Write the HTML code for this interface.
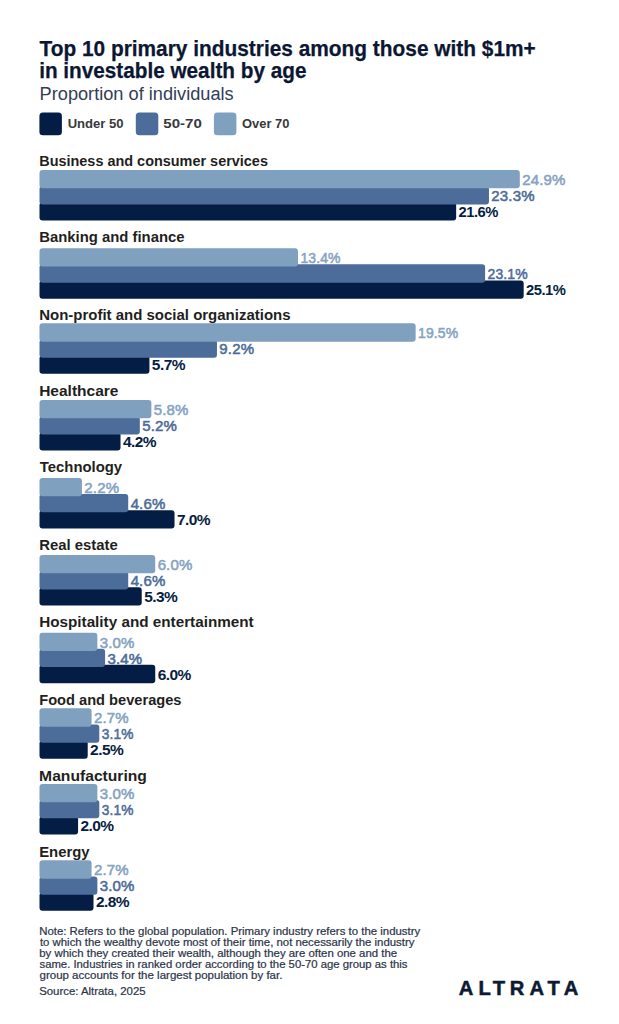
<!DOCTYPE html>
<html><head><meta charset="utf-8"><title>Top 10 primary industries among those with $1m+ in investable wealth by age</title>
<style>
html,body{margin:0;padding:0;background:#fff;}
body{width:619px;height:1024px;overflow:hidden;}
svg{display:block;}
text{font-family:"Liberation Sans", Arial, sans-serif;}
.t{font-weight:700;fill:#0b1733;font-size:22px;stroke:#0b1733;stroke-width:0.25px;}
.sub{fill:#323d57;font-size:17.6px;}
.lg{font-weight:700;fill:#38383c;font-size:12.5px;}
.cat{font-weight:700;fill:#1f1f21;font-size:14.8px;}
.pl{font-size:15px;fill:#85a3c3;letter-spacing:0.15px;stroke:#85a3c3;stroke-width:0.55px;}
.pm{font-size:15px;fill:#4c6c9a;letter-spacing:0.15px;stroke:#4c6c9a;stroke-width:0.55px;}
.pd{font-size:15.5px;fill:#061d42;font-weight:700;letter-spacing:-0.55px;}
.note{font-size:10.3px;fill:#2b3448;stroke:#2b3448;stroke-width:0.2px;}
.logo{font-weight:700;fill:#0d1a33;font-size:20.2px;stroke:#0d1a33;stroke-width:0.5px;}
</style></head><body>
<svg width="619" height="1024" viewBox="0 0 619 1024">
<rect width="619" height="1024" fill="#fff"/>
<text class="t" x="39.46" y="55.90" textLength="496.28" lengthAdjust="spacingAndGlyphs">Top 10 primary industries among those with $1m+</text>
<text class="t" x="39.14" y="78.40" textLength="267.30" lengthAdjust="spacingAndGlyphs">in investable wealth by age</text>
<text class="sub" x="39.58" y="99.70" textLength="194.11" lengthAdjust="spacingAndGlyphs">Proportion of individuals</text>
<rect x="39.4" y="112.5" width="22.5" height="22.7" rx="3.5" fill="#041d44"/>
<text class="lg" x="67.66" y="128.10" textLength="55.96" lengthAdjust="spacingAndGlyphs">Under 50</text>
<rect x="135.8" y="112.5" width="22.5" height="22.7" rx="3.5" fill="#4c6c9a"/>
<text class="lg" x="163.34" y="128.10" textLength="38.48" lengthAdjust="spacingAndGlyphs">50-70</text>
<rect x="213.9" y="112.5" width="22.5" height="22.7" rx="3.5" fill="#80a0bf"/>
<text class="lg" x="241.96" y="128.10" textLength="47.49" lengthAdjust="spacingAndGlyphs">Over 70</text>
<text class="cat" x="39.22" y="165.60" textLength="228.71" lengthAdjust="spacingAndGlyphs">Business and consumer services</text>
<rect x="39.5" y="202.20" width="416.66" height="18.3" rx="3" fill="#041d44"/>
<rect x="39.5" y="186.10" width="449.46" height="18.3" rx="3" fill="#4c6c9a"/>
<rect x="39.5" y="170.00" width="480.32" height="18.3" rx="3" fill="#80a0bf"/>
<text class="pl" x="522.22" y="184.90">24.9%</text>
<text class="pm" x="491.36" y="201.00">23.3%</text>
<text class="pd" x="458.56" y="217.10" textLength="39.20" lengthAdjust="spacingAndGlyphs">21.6%</text>
<text class="cat" x="39.19" y="241.60" textLength="145.33" lengthAdjust="spacingAndGlyphs">Banking and finance</text>
<rect x="39.5" y="280.45" width="484.18" height="18.3" rx="3" fill="#041d44"/>
<rect x="39.5" y="264.35" width="445.60" height="18.3" rx="3" fill="#4c6c9a"/>
<rect x="39.5" y="248.25" width="258.49" height="18.3" rx="3" fill="#80a0bf"/>
<text class="pl" x="300.39" y="263.15" textLength="40.28" lengthAdjust="spacingAndGlyphs">13.4%</text>
<text class="pm" x="487.50" y="279.25" textLength="40.28" lengthAdjust="spacingAndGlyphs">23.1%</text>
<text class="pd" x="526.08" y="295.35" textLength="39.20" lengthAdjust="spacingAndGlyphs">25.1%</text>
<text class="cat" x="39.18" y="319.60" textLength="251.35" lengthAdjust="spacingAndGlyphs">Non-profit and social organizations</text>
<rect x="39.5" y="355.55" width="109.95" height="18.3" rx="3" fill="#041d44"/>
<rect x="39.5" y="339.45" width="177.47" height="18.3" rx="3" fill="#4c6c9a"/>
<rect x="39.5" y="323.35" width="376.15" height="18.3" rx="3" fill="#80a0bf"/>
<text class="pl" x="418.05" y="338.25" textLength="40.28" lengthAdjust="spacingAndGlyphs">19.5%</text>
<text class="pm" x="219.37" y="354.35">9.2%</text>
<text class="pd" x="151.85" y="370.45">5.7%</text>
<text class="cat" x="39.15" y="395.60" textLength="79.35" lengthAdjust="spacingAndGlyphs">Healthcare</text>
<rect x="39.5" y="432.25" width="81.02" height="18.3" rx="3" fill="#041d44"/>
<rect x="39.5" y="416.15" width="100.31" height="18.3" rx="3" fill="#4c6c9a"/>
<rect x="39.5" y="400.05" width="111.88" height="18.3" rx="3" fill="#80a0bf"/>
<text class="pl" x="153.78" y="414.95">5.8%</text>
<text class="pm" x="142.21" y="431.05">5.2%</text>
<text class="pd" x="122.92" y="447.15">4.2%</text>
<text class="cat" x="39.83" y="472.00" textLength="82.24" lengthAdjust="spacingAndGlyphs">Technology</text>
<rect x="39.5" y="510.15" width="135.03" height="18.3" rx="3" fill="#041d44"/>
<rect x="39.5" y="494.05" width="88.73" height="18.3" rx="3" fill="#4c6c9a"/>
<rect x="39.5" y="477.95" width="42.44" height="18.3" rx="3" fill="#80a0bf"/>
<text class="pl" x="84.34" y="492.85">2.2%</text>
<text class="pm" x="130.63" y="508.95">4.6%</text>
<text class="pd" x="176.93" y="525.05">7.0%</text>
<text class="cat" x="39.19" y="549.50" textLength="78.52" lengthAdjust="spacingAndGlyphs">Real estate</text>
<rect x="39.5" y="587.25" width="102.24" height="18.3" rx="3" fill="#041d44"/>
<rect x="39.5" y="571.15" width="88.73" height="18.3" rx="3" fill="#4c6c9a"/>
<rect x="39.5" y="555.05" width="115.74" height="18.3" rx="3" fill="#80a0bf"/>
<text class="pl" x="157.64" y="569.95">6.0%</text>
<text class="pm" x="130.63" y="586.05">4.6%</text>
<text class="pd" x="144.14" y="602.15">5.3%</text>
<text class="cat" x="39.17" y="626.50" textLength="214.53" lengthAdjust="spacingAndGlyphs">Hospitality and entertainment</text>
<rect x="39.5" y="664.85" width="115.74" height="18.3" rx="3" fill="#041d44"/>
<rect x="39.5" y="648.75" width="65.59" height="18.3" rx="3" fill="#4c6c9a"/>
<rect x="39.5" y="632.65" width="57.87" height="18.3" rx="3" fill="#80a0bf"/>
<text class="pl" x="99.77" y="647.55">3.0%</text>
<text class="pm" x="107.49" y="663.65">3.4%</text>
<text class="pd" x="157.64" y="679.75">6.0%</text>
<text class="cat" x="39.21" y="704.60" textLength="142.29" lengthAdjust="spacingAndGlyphs">Food and beverages</text>
<rect x="39.5" y="740.55" width="48.22" height="18.3" rx="3" fill="#041d44"/>
<rect x="39.5" y="724.45" width="59.80" height="18.3" rx="3" fill="#4c6c9a"/>
<rect x="39.5" y="708.35" width="52.08" height="18.3" rx="3" fill="#80a0bf"/>
<text class="pl" x="93.98" y="723.25">2.7%</text>
<text class="pm" x="101.70" y="739.35" textLength="31.79" lengthAdjust="spacingAndGlyphs">3.1%</text>
<text class="pd" x="90.12" y="755.45">2.5%</text>
<text class="cat" x="39.14" y="780.75" textLength="107.77" lengthAdjust="spacingAndGlyphs">Manufacturing</text>
<rect x="39.5" y="816.15" width="38.58" height="18.3" rx="3" fill="#041d44"/>
<rect x="39.5" y="800.05" width="59.80" height="18.3" rx="3" fill="#4c6c9a"/>
<rect x="39.5" y="783.95" width="57.87" height="18.3" rx="3" fill="#80a0bf"/>
<text class="pl" x="99.77" y="798.85">3.0%</text>
<text class="pm" x="101.70" y="814.95" textLength="31.79" lengthAdjust="spacingAndGlyphs">3.1%</text>
<text class="pd" x="80.48" y="831.05">2.0%</text>
<text class="cat" x="39.19" y="856.75" textLength="50.43" lengthAdjust="spacingAndGlyphs">Energy</text>
<rect x="39.5" y="892.55" width="54.01" height="18.3" rx="3" fill="#041d44"/>
<rect x="39.5" y="876.45" width="57.87" height="18.3" rx="3" fill="#4c6c9a"/>
<rect x="39.5" y="860.35" width="52.08" height="18.3" rx="3" fill="#80a0bf"/>
<text class="pl" x="93.98" y="875.25">2.7%</text>
<text class="pm" x="99.77" y="891.35">3.0%</text>
<text class="pd" x="95.91" y="907.45">2.8%</text>
<text class="note" x="39.18" y="934.60" textLength="381.03" lengthAdjust="spacingAndGlyphs">Note: Refers to the global population. Primary industry refers to the industry</text>
<text class="note" x="39.92" y="945.50" textLength="374.49" lengthAdjust="spacingAndGlyphs">to which the wealthy devote most of their time, not necessarily the industry</text>
<text class="note" x="39.26" y="956.90" textLength="357.86" lengthAdjust="spacingAndGlyphs">by which they created their wealth, although they are often one and the</text>
<text class="note" x="39.47" y="968.20" textLength="368.06" lengthAdjust="spacingAndGlyphs">same. Industries in ranked order according to the 50-70 age group as this</text>
<text class="note" x="39.53" y="979.30" textLength="242.87" lengthAdjust="spacingAndGlyphs">group accounts for the largest population by far.</text>
<text class="note" x="39.17" y="994.60" textLength="106.40" lengthAdjust="spacingAndGlyphs">Source: Altrata, 2025</text>
<text class="logo" x="458.77 478.42 492.83 509.84 529.52 547.53 563.72" y="995.2">ALTRATA</text>
</svg>
</body></html>
